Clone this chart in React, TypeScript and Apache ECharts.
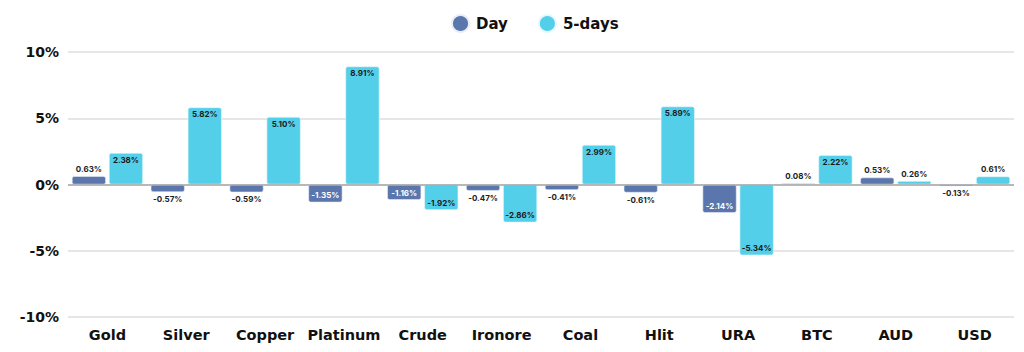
import React, { useEffect, useRef } from "react";
import * as echarts from "echarts";

const categories = ["Gold", "Silver", "Copper", "Platinum", "Crude", "Ironore", "Coal", "Hlit", "URA", "BTC", "AUD", "USD"];
const dayValues = [0.63, -0.57, -0.59, -1.35, -1.16, -0.47, -0.41, -0.61, -2.14, 0.08, 0.53, -0.13];
const fiveDayValues = [2.38, 5.82, 5.1, 8.91, -1.92, -2.86, 2.99, 5.89, -5.34, 2.22, 0.26, 0.61];
const yTicks = { min: -10, max: 10, interval: 5 };

const FONT = "Inter, 'DejaVu Sans', sans-serif";
const WIDE = "'DejaVu Sans', sans-serif";
const DAY_COLOR = "#5a76ac";
const FIVE_COLOR = "#54cfe9";

function makeData(values: number[], insideColor: string) {
  return values.map((v) => {
    const inside = Math.abs(v) >= 1;
    const position = v >= 0 ? (inside ? "insideTop" : "top") : inside ? "insideBottom" : "bottom";
    return {
      value: v,
      label: {
        position,
        color: inside ? insideColor : "#222",
        distance: 3,
      },
    };
  });
}

export default function App() {
  const ref = useRef<HTMLDivElement>(null);
  useEffect(() => {
    if (!ref.current) return;
    const chart = echarts.init(ref.current, null, { renderer: "svg" });
    const labelBase = {
      show: true,
      fontSize: 8,
      fontWeight: 700,
      fontFamily: FONT,
      formatter: (p: any) => `${Number(p.value).toFixed(2)}%`,
    };
    chart.setOption({
      animation: false,
      textStyle: { fontFamily: FONT },
      legend: {
        top: 14,
        left: 451,
        padding: 0,
        icon: "circle",
        itemWidth: 17,
        itemHeight: 17,
        itemGap: 30,
        textStyle: { fontSize: 15, fontWeight: 700, color: "#111", fontFamily: WIDE, padding: [0, 0, 0, 2] },
        data: ["Day", "5-days"],
      },
      grid: { left: 68, right: 10, top: 52, bottom: 35, containLabel: false },
      xAxis: {
        type: "category",
        data: categories,
        axisLine: { show: false, onZero: false },
        axisTick: { show: false },
        axisLabel: { interval: 0, color: "#111", fontSize: 14.5, fontWeight: 700, margin: 10, fontFamily: WIDE },
      },
      yAxis: {
        type: "value",
        min: yTicks.min,
        max: yTicks.max,
        interval: yTicks.interval,
        axisLabel: {
          formatter: "{value}%",
          color: "#111",
          fontSize: 14,
          fontWeight: 700,
          margin: 9,
          fontFamily: WIDE,
        },
        axisLine: { show: false },
        axisTick: { show: false },
        splitLine: { lineStyle: { color: "#dedede", width: 1.5 } },
      },
      series: [
        {
          name: "Day",
          type: "bar",
          barWidth: 34,
          barGap: "9%",
          itemStyle: { color: DAY_COLOR, borderRadius: 2, borderColor: "#e8eef8", borderWidth: 0.6 },
          label: labelBase,
          data: makeData(dayValues, "#ffffff"),
          markLine: {
            silent: true,
            symbol: "none",
            label: { show: false },
            lineStyle: { color: "#a8a8a8", type: "solid", width: 1.5 },
            data: [{ yAxis: 0 }],
          },
        },
        {
          name: "5-days",
          type: "bar",
          barWidth: 34,
          barGap: "9%",
          itemStyle: { color: FIVE_COLOR, borderRadius: 2, borderColor: "#e6f8fc", borderWidth: 0.6 },
          label: labelBase,
          data: makeData(fiveDayValues, "#1a1a1a"),
        },
      ],
    });
    return () => chart.dispose();
  }, []);
  return <div ref={ref} style={{ width: 1024, height: 352, margin: -8 }} />;
}
